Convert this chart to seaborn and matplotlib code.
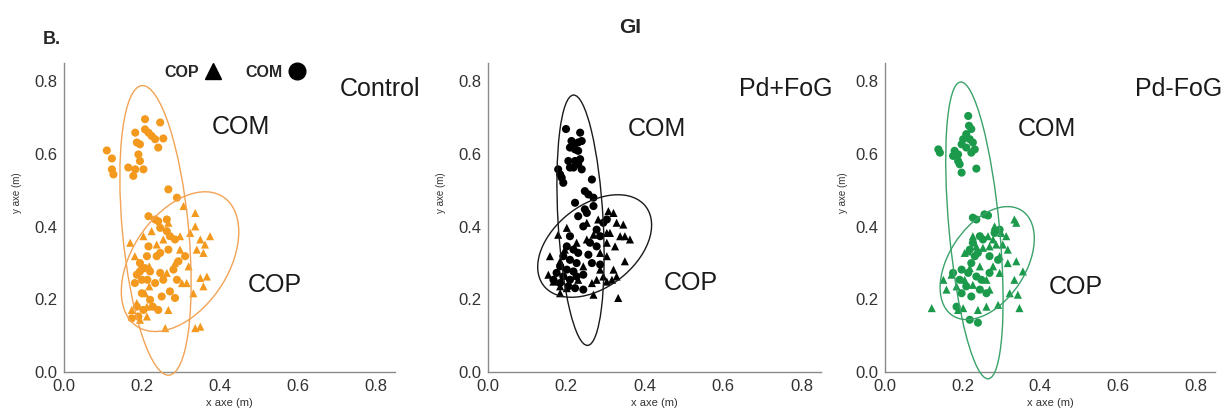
import numpy as np
import pandas as pd
import matplotlib
matplotlib.use("Agg")
import matplotlib.pyplot as plt
import seaborn as sns
from matplotlib.patches import Ellipse
from matplotlib.lines import Line2D

sns.set_style("white")
plt.rcParams['font.family'] = ['Liberation Sans', 'DejaVu Sans']

# ---------------- data ----------------
groups = ["Control", "Pd+FoG", "Pd-FoG"]
point_colors = ["#F39A1E", "#000000", "#1B9A4B"]
ellipse_colors = ["#F2A355", "#1a1a1a", "#3AA26A"]

ctrl_com_x = [0.208, 0.247, 0.183, 0.208, 0.217, 0.225, 0.234, 0.255, 0.242, 0.187, 0.195, 0.191, 0.195, 0.165,
              0.183, 0.204, 0.110, 0.123, 0.123, 0.127, 0.178, 0.268,
              0.217, 0.242, 0.247, 0.264, 0.272, 0.285, 0.217, 0.213, 0.238, 0.195, 0.208, 0.221, 0.247, 0.187,
              0.200, 0.214, 0.234, 0.255, 0.281, 0.290, 0.272, 0.251, 0.221, 0.200, 0.187, 0.204, 0.228, 0.242,
              0.191, 0.174, 0.285, 0.294, 0.311, 0.268, 0.247, 0.195, 0.182, 0.290, 0.264, 0.234]
ctrl_com_y = [0.696, 0.687, 0.659, 0.668, 0.659, 0.650, 0.641, 0.643, 0.618, 0.632, 0.627, 0.599, 0.581, 0.563,
              0.558, 0.558, 0.610, 0.588, 0.558, 0.544, 0.540, 0.503,
              0.429, 0.415, 0.397, 0.388, 0.374, 0.365, 0.346, 0.319, 0.319, 0.300, 0.286, 0.277, 0.273, 0.268,
              0.254, 0.254, 0.245, 0.254, 0.282, 0.254, 0.222, 0.208, 0.199, 0.217, 0.180, 0.171, 0.180, 0.171,
              0.153, 0.148, 0.204, 0.305, 0.319, 0.337, 0.328, 0.277, 0.245, 0.480, 0.420, 0.420]
ctrl_cop_x = [0.307, 0.337, 0.268, 0.337, 0.324, 0.375, 0.350, 0.362, 0.341, 0.358, 0.225, 0.204, 0.170, 0.298,
              0.298, 0.285, 0.320, 0.350, 0.367, 0.358, 0.332, 0.315, 0.200, 0.182, 0.219, 0.264, 0.219, 0.208,
              0.187, 0.213, 0.174, 0.268, 0.213, 0.260, 0.337, 0.350, 0.195, 0.303, 0.255, 0.238]
ctrl_cop_y = [0.457, 0.438, 0.411, 0.401, 0.383, 0.374, 0.365, 0.351, 0.337, 0.328, 0.388, 0.374, 0.356, 0.374,
              0.337, 0.300, 0.291, 0.259, 0.263, 0.236, 0.217, 0.245, 0.296, 0.319, 0.291, 0.273, 0.236, 0.217,
              0.190, 0.180, 0.171, 0.171, 0.153, 0.121, 0.121, 0.125, 0.144, 0.245, 0.365, 0.351]

fog_com_x = [0.199, 0.213, 0.218, 0.230, 0.235, 0.239, 0.222, 0.230, 0.209, 0.205, 0.222, 0.235, 0.230, 0.218,
             0.209, 0.179, 0.184, 0.188, 0.192, 0.239, 0.265, 0.247, 0.256, 0.269, 0.222, 0.230, 0.247, 0.243,
             0.269, 0.252,
             0.209, 0.201, 0.218, 0.230, 0.192, 0.209, 0.226, 0.184, 0.201, 0.218, 0.192, 0.209, 0.226, 0.184,
             0.205, 0.243, 0.222, 0.256, 0.260, 0.277, 0.286, 0.294, 0.277, 0.303, 0.265, 0.243, 0.286, 0.175,
             0.167]
fog_com_y = [0.669, 0.636, 0.627, 0.632, 0.659, 0.636, 0.613, 0.609, 0.618, 0.581, 0.581, 0.586, 0.572, 0.563,
             0.563, 0.558, 0.544, 0.535, 0.521, 0.558, 0.530, 0.498, 0.489, 0.480, 0.466, 0.429, 0.448, 0.401,
             0.457, 0.438,
             0.374, 0.346, 0.337, 0.328, 0.319, 0.309, 0.300, 0.291, 0.282, 0.277, 0.263, 0.254, 0.263, 0.245,
             0.236, 0.227, 0.231, 0.323, 0.356, 0.346, 0.374, 0.411, 0.392, 0.420, 0.300, 0.268, 0.296, 0.273,
             0.254]
fog_cop_x = [0.179, 0.201, 0.158, 0.154, 0.167, 0.184, 0.196, 0.184, 0.320, 0.328, 0.345, 0.311, 0.337, 0.362,
             0.349, 0.303, 0.324, 0.286, 0.303, 0.349, 0.320, 0.328, 0.316, 0.294, 0.277, 0.265, 0.303, 0.269,
             0.332, 0.226, 0.252, 0.269, 0.243, 0.286, 0.230, 0.184, 0.201, 0.303, 0.281, 0.252, 0.307]
fog_cop_y = [0.378, 0.397, 0.319, 0.268, 0.249, 0.236, 0.337, 0.305, 0.438, 0.411, 0.406, 0.383, 0.374, 0.365,
             0.374, 0.356, 0.346, 0.328, 0.319, 0.305, 0.282, 0.263, 0.254, 0.263, 0.254, 0.245, 0.249, 0.213,
             0.204, 0.356, 0.365, 0.378, 0.291, 0.282, 0.254, 0.217, 0.231, 0.383, 0.420, 0.411, 0.443]

nofog_com_x = [0.214, 0.216, 0.222, 0.209, 0.218, 0.226, 0.201, 0.197, 0.209, 0.231, 0.222, 0.179, 0.175, 0.188,
               0.188, 0.192, 0.197, 0.235, 0.137, 0.141, 0.226, 0.235, 0.256, 0.265,
               0.244, 0.226, 0.252, 0.218, 0.239, 0.269, 0.222, 0.197, 0.214, 0.235, 0.248, 0.192, 0.209, 0.244,
               0.261, 0.197, 0.222, 0.184, 0.218, 0.239, 0.175, 0.291, 0.269, 0.282, 0.295, 0.231]
nofog_com_y = [0.705, 0.678, 0.669, 0.655, 0.641, 0.632, 0.641, 0.627, 0.618, 0.613, 0.604, 0.609, 0.595, 0.599,
               0.581, 0.572, 0.549, 0.560, 0.613, 0.604, 0.425, 0.420, 0.434, 0.431,
               0.374, 0.356, 0.365, 0.337, 0.328, 0.319, 0.300, 0.282, 0.273, 0.263, 0.254, 0.254, 0.236, 0.227,
               0.217, 0.217, 0.208, 0.180, 0.144, 0.136, 0.273, 0.309, 0.273, 0.383, 0.392, 0.319]
nofog_cop_x = [0.333, 0.338, 0.299, 0.312, 0.278, 0.286, 0.303, 0.316, 0.269, 0.252, 0.235, 0.214, 0.295, 0.338,
               0.316, 0.355, 0.295, 0.333, 0.261, 0.321, 0.342, 0.346, 0.291, 0.261, 0.239, 0.201, 0.188, 0.120,
               0.150, 0.158, 0.171, 0.184, 0.205, 0.218, 0.244, 0.278, 0.226, 0.265, 0.282, 0.205, 0.269, 0.226]
nofog_cop_y = [0.420, 0.411, 0.383, 0.374, 0.365, 0.351, 0.351, 0.337, 0.346, 0.342, 0.346, 0.332, 0.319, 0.305,
               0.300, 0.277, 0.273, 0.254, 0.254, 0.217, 0.213, 0.176, 0.185, 0.180, 0.171, 0.176, 0.171, 0.176,
               0.254, 0.227, 0.268, 0.236, 0.254, 0.286, 0.291, 0.291, 0.374, 0.374, 0.401, 0.328, 0.227, 0.240]

# ellipse parameters: centre x, centre y, major, minor, angle (deg)
com_ellipses = [(0.235, 0.390, 0.80, 0.17, 95.0),
                (0.236, 0.418, 0.69, 0.115, 93.0),
                (0.230, 0.390, 0.82, 0.13, 95.0)]
cop_ellipses = [(0.298, 0.304, 0.42, 0.25, 60.0),
                (0.272, 0.347, 0.34, 0.22, 43.0),
                (0.263, 0.300, 0.34, 0.20, 60.0)]

tick_vals = [0.0, 0.2, 0.4, 0.6, 0.8]
tick_labels = ["0.0", "0.2", "0.4", "0.6", "0.8"]

# label positions (data coords) for text annotations
com_text_xy = [(0.455, 0.674), (0.43, 0.668), (0.418, 0.668)]
cop_text_xy = [(0.542, 0.240), (0.518, 0.246), (0.492, 0.235)]
group_text_xy = [(0.812, 0.778), (0.760, 0.780), (0.756, 0.780)]

series = [(ctrl_com_x, ctrl_com_y, ctrl_cop_x, ctrl_cop_y),
          (fog_com_x, fog_com_y, fog_cop_x, fog_cop_y),
          (nofog_com_x, nofog_com_y, nofog_cop_x, nofog_cop_y)]

# ---------------- figure ----------------
fig = plt.figure(figsize=(12.26, 4.19), dpi=100)
ax_rects = [[0.0522, 0.112, 0.270, 0.737],
            [0.398, 0.112, 0.272, 0.737],
            [0.722, 0.112, 0.269, 0.737]]
ylabel_x = [-0.127, -0.126, -0.112]
spine_c = "#8a8a8a"

axes = []
for i, rect in enumerate(ax_rects):
    ax = fig.add_axes(rect)
    axes.append(ax)
    cx, cy, px, py = series[i]
    df = pd.DataFrame({
        "x": list(cx) + list(px),
        "y": list(cy) + list(py),
        "kind": ["COM"] * len(cx) + ["COP"] * len(px),
    })
    sns.scatterplot(data=df, x="x", y="y", style="kind",
                    markers={"COM": "o", "COP": "^"},
                    color=point_colors[i], s=34, linewidth=0,
                    legend=False, ax=ax, zorder=3)
    for (ex, ey, w, h, a) in (com_ellipses[i], cop_ellipses[i]):
        ax.add_patch(Ellipse((ex, ey), w, h, angle=a, fill=False,
                             edgecolor=ellipse_colors[i], linewidth=1.0,
                             clip_on=False, zorder=4))
    ax.set_xlim(0, 0.85)
    ax.set_ylim(0, 0.85)
    ax.set_xticks(tick_vals)
    ax.set_xticklabels(tick_labels)
    ax.set_yticks(tick_vals)
    ax.set_yticklabels(tick_labels)
    for side in ["top", "right"]:
        ax.spines[side].set_visible(False)
    for side in ["left", "bottom"]:
        ax.spines[side].set_color(spine_c)
        ax.spines[side].set_linewidth(1.0)
    ax.tick_params(axis="both", direction="out", length=3, width=0.8,
                   color=spine_c, labelsize=12, labelcolor="#333333", pad=2)
    ax.set_xlabel("x axe (m)", fontsize=8, color="#333333", labelpad=3)
    ax.set_ylabel("y axe (m)", fontsize=7, color="#333333")
    ax.yaxis.set_label_coords(ylabel_x[i], 0.58)

    ax.text(*com_text_xy[i], "COM", fontsize=18, ha="center", va="center", color="#1a1a1a")
    ax.text(*cop_text_xy[i], "COP", fontsize=18, ha="center", va="center", color="#1a1a1a")
    ax.text(*group_text_xy[i], groups[i], fontsize=18, ha="center", va="center",
            color="#1a1a1a", clip_on=False)

# marker legend
handles = [Line2D([], [], marker="^", color="black", linestyle="none", markersize=12),
           Line2D([], [], marker="o", color="black", linestyle="none", markersize=12)]
leg = axes[0].legend(handles, ["COP", "COM"], ncol=2, markerfirst=False, frameon=False,
                     loc="center", bbox_to_anchor=(0.193, 0.828), bbox_transform=fig.transFigure,
                     handletextpad=0.1, columnspacing=1.2, handlelength=1.6,
                     prop={"weight": "bold", "size": 11.5})

fig.text(0.042, 0.905, "B.", fontsize=13, fontweight="bold", ha="center", va="center")
fig.text(0.514, 0.935, "GI", fontsize=15, fontweight="bold", ha="center", va="center")

fig.savefig("out.png", dpi=100)
